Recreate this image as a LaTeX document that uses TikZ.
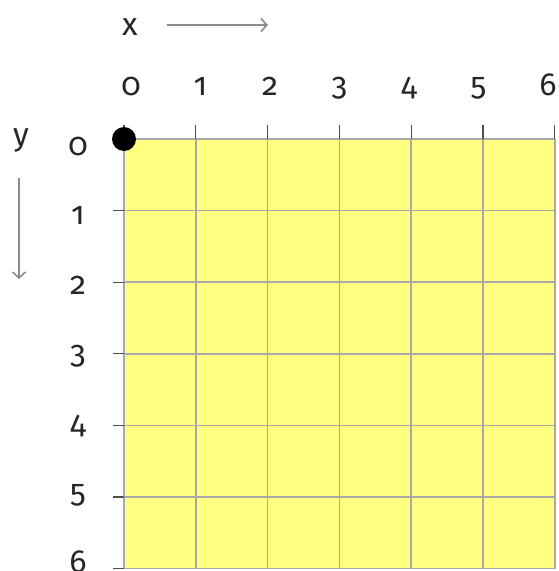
\documentclass[tikz,border=0pt]{standalone}
\usepackage{fontspec}
\setmainfont{Fira Sans}[Numbers=OldStyle]
\usetikzlibrary{arrows.meta}
\definecolor{paper}  {HTML}{FFFF80}
\definecolor{rule}   {HTML}{A8A8A8}
\definecolor{tickink}{HTML}{4D4D4D}
\definecolor{pointer}{HTML}{8C8C8C}
\tikzset{
  every node/.style={font=\fontsize{32}{34}\selectfont, inner sep=0pt, text=black!85},
  % --- nodes
  num/.style    = {anchor=base},
  origin/.style = {circle, fill=black, minimum size=24pt, inner sep=0pt},
  % --- lines
  gridline/.style = {draw=rule, line width=1.6pt},
  tickmark/.style = {draw=tickink, line width=1.3pt},
  dir/.style      = {-{Straight Barb[length=6pt,width=13pt]}, draw=pointer, line width=1.6pt},
}
\begin{document}
\begin{tikzpicture}[x=1pt,y=-1pt]
  \useasboundingbox (0,0) rectangle (558,571);
  % sheet and grid
  \fill[paper] (124,139) rectangle (554.8,568.6);
  \foreach \i in {0,...,6}{
    \draw[gridline] ({124+\i*71.8},139) -- ({124+\i*71.8},568.6);
    \draw[gridline] (124,{139+\i*71.6}) -- (554.8,{139+\i*71.6});
    \draw[tickmark] ({124+\i*71.8},125) -- ({124+\i*71.8},139);
    \draw[tickmark] (113,{139+\i*71.6}) -- (124,{139+\i*71.6});
  }
  % axis numbers
  \foreach \i in {0,...,6}{
    \node[num] (col\i) at ({131+\i*69.5},95) {\i};
    \node[num] (row\i) at (78,{155+\i*69.5}) {\i};
  }
  % directions
  \node[num] (xname) at (130,35) {x};
  \node[num] (yname) at (21,145) {y};
  \coordinate (xfrom) at (167,25);
  \coordinate (xto)   at (268,25);
  \coordinate (yfrom) at (19,178);
  \coordinate (yto)   at (19,279);
  \draw[dir] (xfrom) -- (xto);
  \draw[dir] (yfrom) -- (yto);
  \node[origin] (origin) at (124,139) {};
\end{tikzpicture}
\end{document}
